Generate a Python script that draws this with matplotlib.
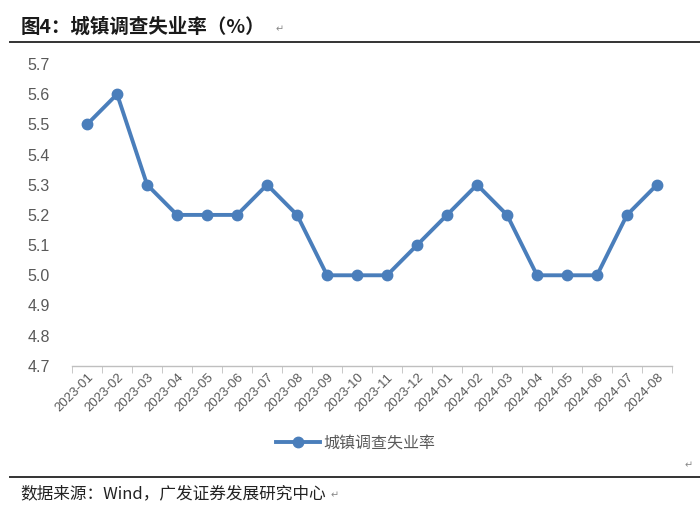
import matplotlib
matplotlib.use("Agg")
import matplotlib.pyplot as plt
from matplotlib.lines import Line2D

plt.rcParams["font.family"] = ["Liberation Sans", "Noto Sans CJK SC", "DejaVu Sans"]

months = ["2023-01", "2023-02", "2023-03", "2023-04", "2023-05", "2023-06",
          "2023-07", "2023-08", "2023-09", "2023-10", "2023-11", "2023-12",
          "2024-01", "2024-02", "2024-03", "2024-04", "2024-05", "2024-06",
          "2024-07", "2024-08"]
rate = [5.5, 5.6, 5.3, 5.2, 5.2, 5.2, 5.3, 5.2, 5.0, 5.0, 5.0, 5.1,
        5.2, 5.3, 5.2, 5.0, 5.0, 5.0, 5.2, 5.3]
yticks = [4.7, 4.8, 4.9, 5.0, 5.1, 5.2, 5.3, 5.4, 5.5, 5.6, 5.7]
series_name = "城镇调查失业率"

LINE = "#4a7ebb"
GRAY = "#595959"
CJK = ["Noto Sans CJK SC", "DejaVu Sans"]

fig = plt.figure(figsize=(7.0, 5.16), dpi=100)
ax = fig.add_axes([0.103, 0.291, 0.857, 0.585])

xs = list(range(len(months)))
ax.plot(xs, rate, color=LINE, lw=2.8, marker="o", ms=7.5,
        markerfacecolor=LINE, markeredgecolor=LINE, zorder=3)

ax.set_xlim(-0.5, len(months) - 0.5)
ax.set_ylim(4.7, 5.7)
ax.set_yticks(yticks)
ax.set_yticklabels([f"{t:.1f}" for t in yticks], color=GRAY, fontsize=11.5)
ax.tick_params(axis="y", length=0, pad=16)

ax.set_xticks(xs)
ax.set_xticklabels(months, rotation=45, ha="right", rotation_mode="anchor",
                   color=GRAY, fontsize=9.5)
ax.tick_params(axis="x", length=0, pad=4)
# category-boundary tick marks like the original
ax.set_xticks([i - 0.5 for i in range(len(months) + 1)], minor=True)
ax.tick_params(axis="x", which="minor", length=5, color="#bfbfbf",
               direction="out")

for s in ("top", "right", "left"):
    ax.spines[s].set_visible(False)
ax.spines["bottom"].set_color("#bfbfbf")
ax.spines["bottom"].set_linewidth(1.0)

handle = Line2D([], [], color=LINE, lw=2.8, marker="o", ms=7.5)
fig.legend(handles=[handle], labels=[series_name], loc="center",
           bbox_to_anchor=(0.508, 0.141), frameon=False, handlelength=2.8,
           handletextpad=0.2, prop={"family": CJK, "size": 11.5},
           labelcolor=GRAY)

# title and rules
fig.text(0.029, 0.947, "图4：城镇调查失业率（%）", fontsize=14,
         fontweight="bold", family=CJK, va="center", color="#1a1a1a")
fig.text(0.393, 0.943, "↵", fontsize=7, color="#888888", va="center",
         family=["DejaVu Sans"])
fig.add_artist(Line2D([0.014, 1.0], [0.918, 0.918], color="#333333",
                      lw=1.4, transform=fig.transFigure))
fig.add_artist(Line2D([0.014, 1.0], [0.076, 0.076], color="#333333",
                      lw=1.4, transform=fig.transFigure))
fig.text(0.99, 0.099, "↵", fontsize=7, color="#888888", va="center",
         ha="right", family=["DejaVu Sans"])
src = fig.text(0.029, 0.043, "数据来源：Wind，广发证券发展研究中心", fontsize=12,
               family=CJK, va="center", color="#222222")
fig.text(0.472, 0.040, "↵", fontsize=7, color="#888888", va="center",
         family=["DejaVu Sans"])

fig.savefig("out.png", dpi=100)
